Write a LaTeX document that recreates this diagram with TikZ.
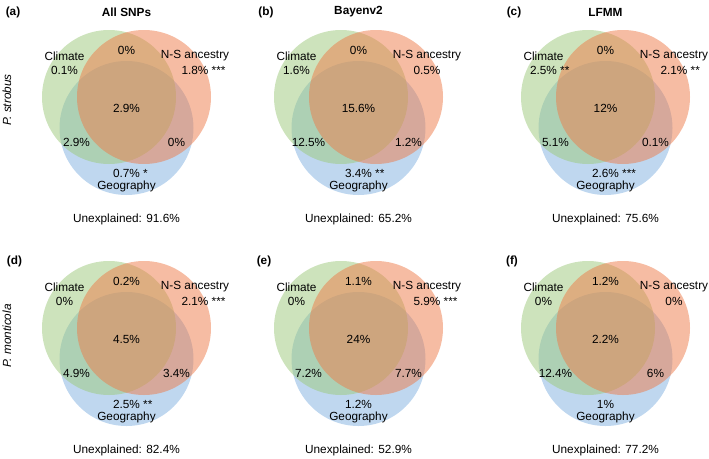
\documentclass[tikz,border=0pt]{standalone}
\usepackage{fontspec}
\setmainfont{Liberation Sans}
\definecolor{vgreen}{HTML}{9CC87A}
\definecolor{vred}{HTML}{EE7A48}
\definecolor{vblue}{HTML}{7FB0E0}

\begin{document}
\begin{tikzpicture}[x=1pt, y=-1pt,
  txt/.style={font=\fontsize{11.8}{13}\selectfont, inner sep=0pt},
  ttl/.style={font=\fontsize{11.8}{13}\selectfont\bfseries, inner sep=0pt},
  side/.style={font=\fontsize{11.8}{13}\selectfont\itshape, inner sep=0pt, rotate=90},
  gset/.style={fill=vgreen, fill opacity=0.5},
  rset/.style={fill=vred, fill opacity=0.5},
  bset/.style={fill=vblue, fill opacity=0.5}]
\useasboundingbox (0,0) rectangle (709,458);
% row labels
\node[side] (rowA) at (7,100) {P. strobus};
\node[side] (rowB) at (7,336) {P. monticola};
% (a) all SNPs
\begin{scope}[shift={(126.5,97)}]
\fill[bset] (0,31) circle[radius=67pt];
\fill[gset] (-17.5,0) circle[radius=67pt];
\fill[rset] (17.5,0) circle[radius=67pt];
\node[ttl] (tagA) at (-113.5,-85) {(a)};
\node[ttl] (titleA) at (0,-85) {All SNPs};
\node[txt] (climA) at (-62,-41) {Climate};
\node[txt] (climvalA) at (-62,-27) {0.1\%};
\node[txt] (topA) at (0,-47) {0\%};
\node[txt] (nsA) at (68.5,-41) {N-S ancestry};
\node[txt] (nsvalA) at (68.5,-27) {1.8\%\rlap{ ***}};
\node[txt] (midA) at (0,11) {2.9\%};
\node[txt] (cgA) at (-50,45) {2.9\%};
\node[txt] (ngA) at (50,45) {0\%};
\node[txt] (geovalA) at (0,76) {0.7\%\rlap{ *}};
\node[txt] (geoA) at (0,89) {Geography};
\node[txt] (unexA) at (0,122) {Unexplained: 91.6\%};
\end{scope}
% (b) Bayenv2
\begin{scope}[shift={(358.5,97)}]
\fill[bset] (0,31) circle[radius=67pt];
\fill[gset] (-17.5,0) circle[radius=67pt];
\fill[rset] (17.5,0) circle[radius=67pt];
\node[ttl] (tagB) at (-92.5,-85) {(b)};
\node[ttl] (titleB) at (0,-85) {Bayenv2};
\node[txt] (climB) at (-62,-41) {Climate};
\node[txt] (climvalB) at (-62,-27) {1.6\%};
\node[txt] (topB) at (0,-47) {0\%};
\node[txt] (nsB) at (68.5,-41) {N-S ancestry};
\node[txt] (nsvalB) at (68.5,-27) {0.5\%};
\node[txt] (midB) at (0,11) {15.6\%};
\node[txt] (cgB) at (-50,45) {12.5\%};
\node[txt] (ngB) at (50,45) {1.2\%};
\node[txt] (geovalB) at (0,76) {3.4\%\rlap{ **}};
\node[txt] (geoB) at (0,89) {Geography};
\node[txt] (unexB) at (0,122) {Unexplained: 65.2\%};
\end{scope}
% (c) LFMM
\begin{scope}[shift={(605.5,97)}]
\fill[bset] (0,31) circle[radius=67pt];
\fill[gset] (-17.5,0) circle[radius=67pt];
\fill[rset] (17.5,0) circle[radius=67pt];
\node[ttl] (tagC) at (-91.5,-85) {(c)};
\node[ttl] (titleC) at (0,-85) {LFMM};
\node[txt] (climC) at (-62,-41) {Climate};
\node[txt] (climvalC) at (-62,-27) {2.5\%\rlap{ **}};
\node[txt] (topC) at (0,-47) {0\%};
\node[txt] (nsC) at (68.5,-41) {N-S ancestry};
\node[txt] (nsvalC) at (68.5,-27) {2.1\%\rlap{ **}};
\node[txt] (midC) at (0,11) {12\%};
\node[txt] (cgC) at (-50,45) {5.1\%};
\node[txt] (ngC) at (50,45) {0.1\%};
\node[txt] (geovalC) at (0,76) {2.6\%\rlap{ ***}};
\node[txt] (geoC) at (0,89) {Geography};
\node[txt] (unexC) at (0,122) {Unexplained: 75.6\%};
\end{scope}
% (d) all SNPs
\begin{scope}[shift={(126.5,328)}]
\fill[bset] (0,31) circle[radius=67pt];
\fill[gset] (-17.5,0) circle[radius=67pt];
\fill[rset] (17.5,0) circle[radius=67pt];
\node[ttl] (tagD) at (-112,-67) {(d)};
\node[txt] (climD) at (-62,-41) {Climate};
\node[txt] (climvalD) at (-62,-27) {0\%};
\node[txt] (topD) at (0,-47) {0.2\%};
\node[txt] (nsD) at (68.5,-41) {N-S ancestry};
\node[txt] (nsvalD) at (68.5,-27) {2.1\%\rlap{ ***}};
\node[txt] (midD) at (0,11) {4.5\%};
\node[txt] (cgD) at (-50,45) {4.9\%};
\node[txt] (ngD) at (50,45) {3.4\%};
\node[txt] (geovalD) at (0,76) {2.5\%\rlap{ **}};
\node[txt] (geoD) at (0,89) {Geography};
\node[txt] (unexD) at (0,122) {Unexplained: 82.4\%};
\end{scope}
% (e) Bayenv2
\begin{scope}[shift={(358.5,328)}]
\fill[bset] (0,31) circle[radius=67pt];
\fill[gset] (-17.5,0) circle[radius=67pt];
\fill[rset] (17.5,0) circle[radius=67pt];
\node[ttl] (tagE) at (-94.5,-67) {(e)};
\node[txt] (climE) at (-62,-41) {Climate};
\node[txt] (climvalE) at (-62,-27) {0\%};
\node[txt] (topE) at (0,-47) {1.1\%};
\node[txt] (nsE) at (68.5,-41) {N-S ancestry};
\node[txt] (nsvalE) at (68.5,-27) {5.9\%\rlap{ ***}};
\node[txt] (midE) at (0,11) {24\%};
\node[txt] (cgE) at (-50,45) {7.2\%};
\node[txt] (ngE) at (50,45) {7.7\%};
\node[txt] (geovalE) at (0,76) {1.2\%};
\node[txt] (geoE) at (0,89) {Geography};
\node[txt] (unexE) at (0,122) {Unexplained: 52.9\%};
\end{scope}
% (f) LFMM
\begin{scope}[shift={(605.5,328)}]
\fill[bset] (0,31) circle[radius=67pt];
\fill[gset] (-17.5,0) circle[radius=67pt];
\fill[rset] (17.5,0) circle[radius=67pt];
\node[ttl] (tagF) at (-93.5,-67) {(f)};
\node[txt] (climF) at (-62,-41) {Climate};
\node[txt] (climvalF) at (-62,-27) {0\%};
\node[txt] (topF) at (0,-47) {1.2\%};
\node[txt] (nsF) at (68.5,-41) {N-S ancestry};
\node[txt] (nsvalF) at (68.5,-27) {0\%};
\node[txt] (midF) at (0,11) {2.2\%};
\node[txt] (cgF) at (-50,45) {12.4\%};
\node[txt] (ngF) at (50,45) {6\%};
\node[txt] (geovalF) at (0,76) {1\%};
\node[txt] (geoF) at (0,89) {Geography};
\node[txt] (unexF) at (0,122) {Unexplained: 77.2\%};
\end{scope}
\end{tikzpicture}
\end{document}
